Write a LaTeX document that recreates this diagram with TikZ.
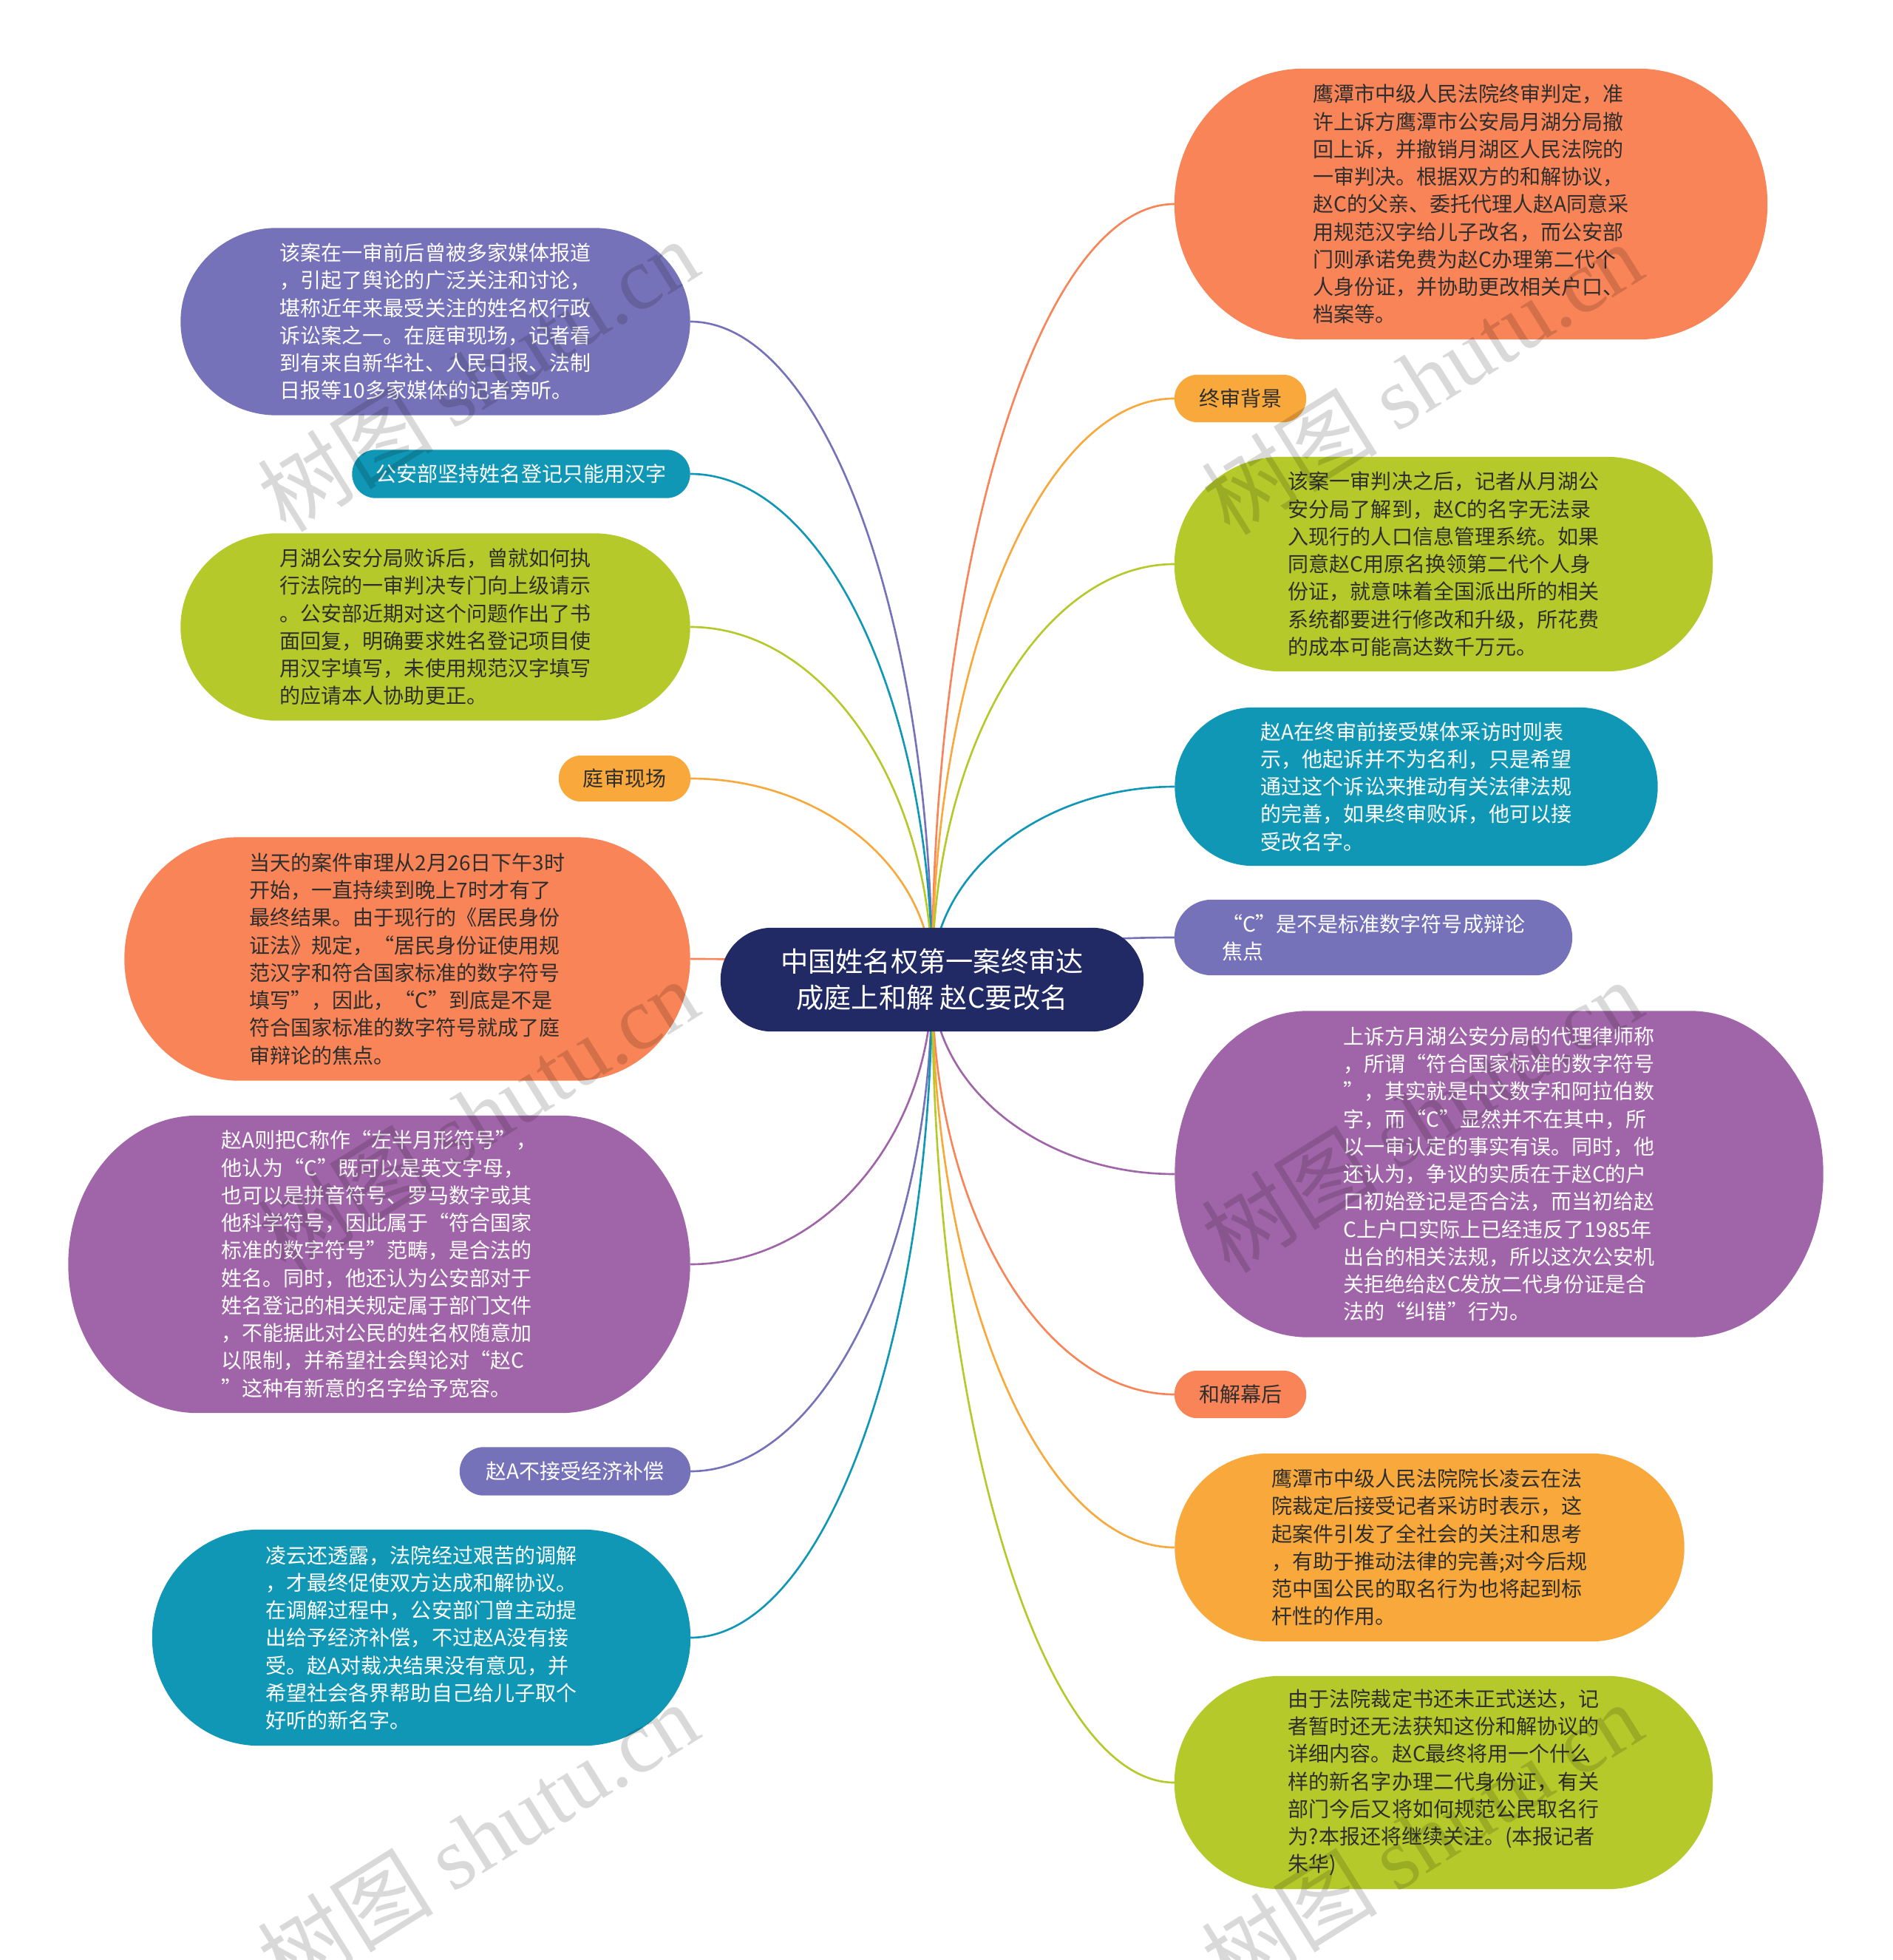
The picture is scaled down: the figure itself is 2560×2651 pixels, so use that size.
\documentclass[tikz,border=0pt]{standalone}
\usepackage{fontspec}
\setmainfont{Noto Sans CJK SC}
\newfontfamily\wmserif{Liberation Serif}
\usetikzlibrary{calc}
\pgfdeclarelayer{edges}
\pgfdeclarelayer{pills}
\pgfsetlayers{edges,pills,main}
\definecolor{cPurpleBlue}{HTML}{7672B9}
\definecolor{cTeal}{HTML}{1097B5}
\definecolor{cGreen}{HTML}{B6C92B}
\definecolor{cOrange}{HTML}{F88457}
\definecolor{cAmber}{HTML}{F9A93B}
\definecolor{cPurple}{HTML}{A065A8}
\definecolor{cNavy}{HTML}{222A65}
\definecolor{cDark}{HTML}{2E2E2E}
\tikzset{
  bodytxt/.style={inner sep=0pt, align=left, font=\fontsize{7.97pt}{10.6pt}\selectfont},
  edge/.style={line width=0.75pt},
  wm/.style={text=black, text opacity=0.15, font=\fontsize{34pt}{34pt}\selectfont, inner sep=0pt}
}
\newcommand{\pillfill}[3]{%
  \fill[#2] let \p1=(#1.south west), \p2=(#1.north east), \n1={(\y2-\y1)/2} in
    ({\x1+#3mm},\y1) -- ({\x2-#3mm},\y1)
    arc[start angle=-90,end angle=90,x radius=#3mm,y radius={\n1*1pt}]
    -- ({\x1+#3mm},\y2)
    arc[start angle=90,end angle=270,x radius=#3mm,y radius={\n1*1pt}] -- cycle;}
\newcommand{\pn}[9]{%
  \node[bodytxt, minimum width=#4mm, minimum height=#5mm, text=#8] (#1) at (#2,#3) {#9};
  \begin{pgfonlayer}{pills}\pillfill{#1}{#7}{#6}\end{pgfonlayer}}
\newcommand{\edgeto}[3]{%
  \draw[edge,#2] (c.center) .. controls ($(c.center)!0.55!(c.center |- #1.#3)$) and ($(#1.#3)!0.55!(c.center |- #1.#3)$) .. (#1.#3);}
\begin{document}
\begin{tikzpicture}[x=0.1mm,y=-0.1mm]
\useasboundingbox (0,0) rectangle (2560,2651);
\begin{pgfonlayer}{edges}
\fill[white] (0,0) rectangle (2560,2651);
\end{pgfonlayer}

% centre
\node[inner sep=0pt, align=center, minimum width=57.1mm, minimum height=13.9mm, text=white,
      font=\fontsize{10.6pt}{13.9pt}\selectfont] (c) at (1261,1325)
  {中国姓名权第一案终审达\\成庭上和解 赵C要改名};
\begin{pgfonlayer}{pills}\pillfill{c}{cNavy}{6.95}\end{pgfonlayer}

% left side
\pn{L1}{589}{435}{68.8}{25.2}{13}{cPurpleBlue}{white}{该案在一审前后曾被多家媒体报道\\，引起了舆论的广泛关注和讨论，\\堪称近年来最受关注的姓名权行政\\诉讼案之一。在庭审现场，记者看\\到有来自新华社、人民日报、法制\\日报等10多家媒体的记者旁听。}
\pn{L2}{705}{641}{45.6}{6.4}{3.2}{cTeal}{white}{公安部坚持姓名登记只能用汉字}
\pn{L3}{589}{848}{68.8}{25.2}{13}{cGreen}{cDark}{月湖公安分局败诉后，曾就如何执\\行法院的一审判决专门向上级请示\\。公安部近期对这个问题作出了书\\面回复，明确要求姓名登记项目使\\用汉字填写，未使用规范汉字填写\\的应请本人协助更正。}
\pn{L4}{845}{1053}{17.7}{6.1}{3.05}{cAmber}{cDark}{庭审现场}
\pn{L5}{551}{1297}{76.4}{32.8}{15.5}{cOrange}{cDark}{当天的案件审理从2月26日下午3时\\开始，一直持续到晚上7时才有了\\最终结果。由于现行的《居民身份\\证法》规定，“居民身份证使用规\\范汉字和符合国家标准的数字符号\\填写”，因此，“C”到底是不是\\符合国家标准的数字符号就成了庭\\审辩论的焦点。}
\pn{L6}{513}{1710}{84.0}{40.1}{17.5}{cPurple}{white}{赵A则把C称作“左半月形符号”，\\他认为“C”既可以是英文字母，\\也可以是拼音符号、罗马数字或其\\他科学符号，因此属于“符合国家\\标准的数字符号”范畴，是合法的\\姓名。同时，他还认为公安部对于\\姓名登记的相关规定属于部门文件\\，不能据此对公民的姓名权随意加\\以限制，并希望社会舆论对“赵C\\”这种有新意的名字给予宽容。}
\pn{L7}{778}{1990}{31.1}{6.4}{3.2}{cPurpleBlue}{white}{赵A不接受经济补偿}
\pn{L8}{570}{2215}{72.7}{29.1}{14.5}{cTeal}{white}{凌云还透露，法院经过艰苦的调解\\，才最终促使双方达成和解协议。\\在调解过程中，公安部门曾主动提\\出给予经济补偿，不过赵A没有接\\受。赵A对裁决结果没有意见，并\\希望社会各界帮助自己给儿子取个\\好听的新名字。}

% right side
\pn{R1}{1990}{276}{80.1}{36.5}{17.5}{cOrange}{cDark}{鹰潭市中级人民法院终审判定，准\\许上诉方鹰潭市公安局月湖分局撤\\回上诉，并撤销月湖区人民法院的\\一审判决。根据双方的和解协议，\\赵C的父亲、委托代理人赵A同意采\\用规范汉字给儿子改名，而公安部\\门则承诺免费为赵C办理第二代个\\人身份证，并协助更改相关户口、\\档案等。}
\pn{R2}{1678}{539}{17.7}{6.3}{3.15}{cAmber}{cDark}{终审背景}
\pn{R3}{1953}{763}{72.7}{28.9}{14.45}{cGreen}{cDark}{该案一审判决之后，记者从月湖公\\安分局了解到，赵C的名字无法录\\入现行的人口信息管理系统。如果\\同意赵C用原名换领第二代个人身\\份证，就意味着全国派出所的相关\\系统都要进行修改和升级，所花费\\的成本可能高达数千万元。}
\pn{R4}{1916}{1064}{65.2}{21.3}{10.65}{cTeal}{white}{赵A在终审前接受媒体采访时则表\\示，他起诉并不为名利，只是希望\\通过这个诉讼来推动有关法律法规\\的完善，如果终审败诉，他可以接\\受改名字。}
\pn{R5}{1858}{1268}{53.7}{10.1}{5.05}{cPurpleBlue}{white}{“C”是不是标准数字符号成辩论\\焦点}
\pn{R6}{2028}{1588}{87.6}{44.0}{18}{cPurple}{white}{上诉方月湖公安分局的代理律师称\\，所谓“符合国家标准的数字符号\\”，其实就是中文数字和阿拉伯数\\字，而“C”显然并不在其中，所\\以一审认定的事实有误。同时，他\\还认为，争议的实质在于赵C的户\\口初始登记是否合法，而当初给赵\\C上户口实际上已经违反了1985年\\出台的相关法规，所以这次公安机\\关拒绝给赵C发放二代身份证是合\\法的“纠错”行为。}
\pn{R7}{1678}{1886}{17.7}{6.3}{3.15}{cOrange}{cDark}{和解幕后}
\pn{R8}{1934}{2093}{68.8}{25.3}{12.65}{cAmber}{cDark}{鹰潭市中级人民法院院长凌云在法\\院裁定后接受记者采访时表示，这\\起案件引发了全社会的关注和思考\\，有助于推动法律的完善;对今后规\\范中国公民的取名行为也将起到标\\杆性的作用。}
\pn{R9}{1953}{2411}{72.7}{28.7}{14.35}{cGreen}{cDark}{由于法院裁定书还未正式送达，记\\者暂时还无法获知这份和解协议的\\详细内容。赵C最终将用一个什么\\样的新名字办理二代身份证，有关\\部门今后又将如何规范公民取名行\\为?本报还将继续关注。(本报记者\\朱华)}

% connectors
\begin{pgfonlayer}{edges}
\edgeto{L1}{cPurpleBlue}{east}
\edgeto{L2}{cTeal}{east}
\edgeto{L3}{cGreen}{east}
\edgeto{L4}{cAmber}{east}
\edgeto{L5}{cOrange}{east}
\edgeto{L6}{cPurple}{east}
\edgeto{L7}{cPurpleBlue}{east}
\edgeto{L8}{cTeal}{east}
\edgeto{R1}{cOrange}{west}
\edgeto{R2}{cAmber}{west}
\edgeto{R3}{cGreen}{west}
\edgeto{R4}{cTeal}{west}
\edgeto{R5}{cPurpleBlue}{west}
\edgeto{R6}{cPurple}{west}
\edgeto{R7}{cOrange}{west}
\edgeto{R8}{cAmber}{west}
\edgeto{R9}{cGreen}{west}
\end{pgfonlayer}

% watermarks
\node[wm, rotate=32] (wm1) at (646,507) {树图 {\wmserif shutu.cn}};
\node[wm, rotate=32] (wm2) at (1923,511) {树图 {\wmserif shutu.cn}};
\node[wm, rotate=32] (wm3) at (646,1508) {树图 {\wmserif shutu.cn}};
\node[wm, rotate=32] (wm4) at (1923,1509) {树图 {\wmserif shutu.cn}};
\node[wm, rotate=32] (wm5) at (646,2486) {树图 {\wmserif shutu.cn}};
\node[wm, rotate=32] (wm6) at (1923,2486) {树图 {\wmserif shutu.cn}};
\end{tikzpicture}
\end{document}
